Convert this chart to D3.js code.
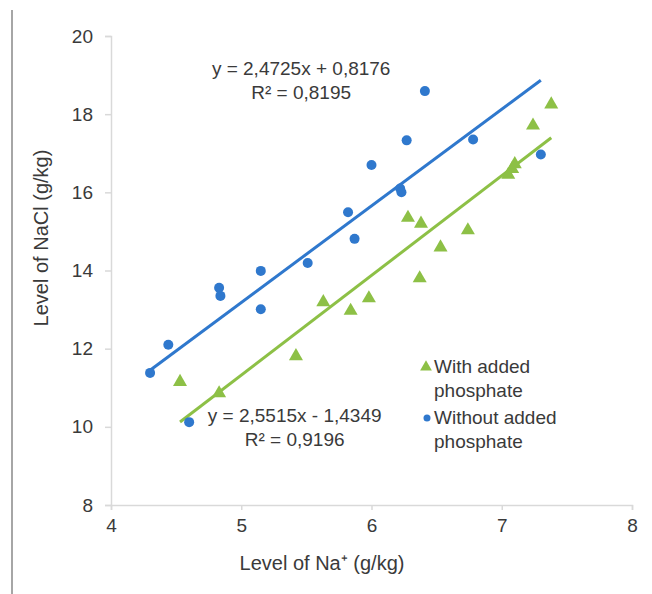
<!DOCTYPE html>
<html>
<head>
<meta charset="utf-8">
<script src="https://cdn.jsdelivr.net/npm/d3@7"></script>
<style>
  body { margin: 0; background: #fff; }
  svg text { font-family: Arial, "Liberation Sans", sans-serif; fill: #3a3a3a; }
</style>
</head>
<body>
<div id="chart"></div>
<script>
// DATA
const seriesNames = ["With added phosphate", "Without added phosphate"];

// without added phosphate (blue)
const blueX = [4.30, 4.44, 4.60, 4.83, 4.84, 5.15, 5.15, 5.51, 5.82, 5.87, 6.00, 6.22, 6.23, 6.27, 6.41, 6.78, 7.30];
const blueY = [11.38, 12.10, 10.12, 13.56, 13.35, 13.01, 13.99, 14.19, 15.49, 14.81, 16.70, 16.10, 16.00, 17.33, 18.59, 17.35, 16.97];

// with added phosphate (green)
const greenX = [4.53, 4.83, 5.42, 5.63, 5.84, 5.98, 6.28, 6.38, 6.37, 6.53, 6.74, 7.05, 7.08, 7.10, 7.24, 7.38];
const greenY = [11.15, 10.86, 11.81, 13.19, 12.97, 13.29, 15.35, 15.20, 13.80, 14.59, 15.03, 16.45, 16.60, 16.72, 17.71, 18.25];

// trend lines: slope, intercept
const blueFit = [2.4725, 0.8176];
const greenFit = [2.5515, -1.4349];
const blueEq = ["y = 2,4725x  + 0,8176", "R² = 0,8195"];
const greenEq = ["y = 2,5515x  - 1,4349", "R² = 0,9196"];

const xTicks = [4, 5, 6, 7, 8];
const yTicks = [8, 10, 12, 14, 16, 18, 20];

const blue = "#2f78cd", green = "#8dc046";

const svg = d3.select("#chart").append("svg")
  .attr("width", 652)
  .attr("height", 594);

// border line from the source picture
svg.append("line")
  .attr("x1", 12).attr("x2", 12)
  .attr("y1", 10).attr("y2", 594)
  .attr("stroke", "#a6a6a6")
  .attr("stroke-width", 2);

const x = d3.scaleLinear().domain([4, 8]).range([111, 632]);
const y = d3.scaleLinear().domain([8, 20]).range([505, 36]);

// AXES
const gx = svg.append("g")
  .attr("transform", `translate(0,${y(8)})`)
  .call(d3.axisBottom(x).tickValues(xTicks).tickSize(5).tickPadding(9).tickFormat(d3.format("d")));
const gy = svg.append("g")
  .attr("transform", `translate(${x(4)},0)`)
  .call(d3.axisLeft(y).tickValues(yTicks).tickSize(6).tickPadding(12).tickFormat(d3.format("d")));

[gx, gy].forEach(g => {
  g.select(".domain").attr("stroke", "#d9d9d9").attr("stroke-width", 1.5);
  g.selectAll(".tick line").attr("stroke", "#d9d9d9").attr("stroke-width", 1.5);
  g.selectAll(".tick text").attr("font-size", 19).attr("fill", "#3a3a3a");
});

svg.append("text")
  .attr("x", 322).attr("y", 570)
  .attr("text-anchor", "middle")
  .attr("font-size", 20)
  .text("Level of Na⁺ (g/kg)");

svg.append("text")
  .attr("transform", "translate(48,238) rotate(-90)")
  .attr("text-anchor", "middle")
  .attr("font-size", 20)
  .text("Level of NaCl (g/kg)");

// TREND LINES
function fitLine(xs, fit, color) {
  const ext = d3.extent(xs);
  svg.append("line")
    .attr("x1", x(ext[0])).attr("y1", y(fit[0] * ext[0] + fit[1]))
    .attr("x2", x(ext[1])).attr("y2", y(fit[0] * ext[1] + fit[1]))
    .attr("stroke", color)
    .attr("stroke-width", 3);
}
fitLine(blueX, blueFit, blue);
fitLine(greenX, greenFit, green);

// POINTS
const tri = d3.symbol().type(d3.symbolTriangle).size(85);
svg.append("g")
  .selectAll("path")
  .data(greenX.map((d, i) => [d, greenY[i]]))
  .enter()
  .append("path")
  .attr("d", tri)
  .attr("transform", d => `translate(${x(d[0])},${y(d[1])})`)
  .attr("fill", green);

svg.append("g")
  .selectAll("circle")
  .data(blueX.map((d, i) => [d, blueY[i]]))
  .enter()
  .append("circle")
  .attr("cx", d => x(d[0]))
  .attr("cy", d => y(d[1]))
  .attr("r", 5)
  .attr("fill", blue);

// EQUATIONS
function eq(lines, cx, cy) {
  svg.append("text")
    .attr("x", cx).attr("y", cy)
    .attr("text-anchor", "middle")
    .attr("font-size", 19)
    .selectAll("tspan")
    .data(lines)
    .enter()
    .append("tspan")
    .attr("x", cx)
    .attr("dy", (d, i) => i ? 24 : 0)
    .text(d => d);
}
eq(blueEq, x(5.46), y(19.0));
eq(greenEq, x(5.41), y(10.12));

// LEGEND
const legend = svg.append("g");
const legendY = [367, 418];
legend.append("path")
  .attr("d", d3.symbol().type(d3.symbolTriangle).size(60))
  .attr("transform", `translate(426,${legendY[0]})`)
  .attr("fill", green);
legend.append("circle")
  .attr("cx", 427).attr("cy", legendY[1])
  .attr("r", 3.5)
  .attr("fill", blue);

legend.selectAll("text")
  .data(seriesNames)
  .enter()
  .append("text")
  .attr("x", 434)
  .attr("y", (d, i) => legendY[i] + 6)
  .attr("font-size", 19)
  .each(function(d) {
    const words = d.split(" ");
    const t = d3.select(this);
    t.append("tspan").attr("x", 434).text(words.slice(0, 2).join(" "));
    t.append("tspan").attr("x", 434).attr("dy", 24).text(words.slice(2).join(" "));
  });
</script>
</body>
</html>
